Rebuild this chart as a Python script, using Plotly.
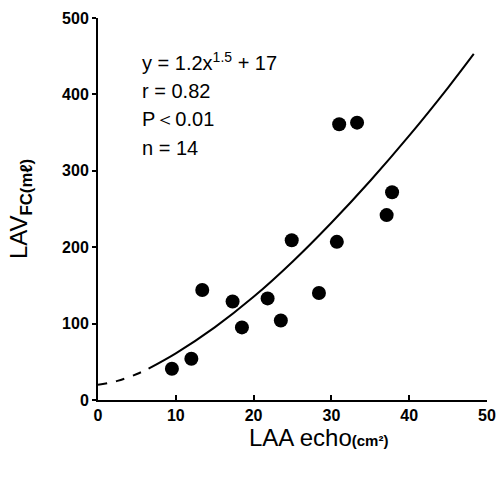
import plotly.graph_objects as go

# Data
laa_echo = [9.5, 12.0, 13.4, 17.3, 18.5, 21.8, 23.5, 24.9, 28.4, 30.7, 37.1, 31.0, 33.3, 37.8]
lav_fc = [41, 54, 144, 129, 95, 133, 104, 209, 140, 207, 242, 361, 363, 272]

# Regression curve (dashed extrapolation + solid part)
curve_x_dashed = [0, 2.5, 5, 6.5]
curve_y_dashed = [20, 25, 34, 41]
curve_x = [6.5, 10, 15, 20, 25, 30, 35, 40, 45, 48.3]
curve_y = [41, 61, 95, 135, 181, 232, 287, 346, 409, 453]

x_ticks = [0, 10, 20, 30, 40, 50]
y_ticks = [0, 100, 200, 300, 400, 500]

stats_lines = ["y = 1.2x<sup>1.5</sup> + 17", "r = 0.82", "P\uff1c0.01", "n = 14"]
x_title = "LAA echo<span style='font-size:15px;font-weight:bold'>(cm²)</span>"
y_title = "LAV<sub><b>FC(mℓ)</b></sub>"

FONT = "Liberation Sans, Arial, sans-serif"

fig = go.Figure()
fig.add_trace(go.Scatter(x=curve_x_dashed, y=curve_y_dashed, mode="lines",
                         line=dict(color="black", width=2, dash="dash", shape="spline"),
                         hoverinfo="skip", showlegend=False))
fig.add_trace(go.Scatter(x=curve_x, y=curve_y, mode="lines",
                         line=dict(color="black", width=2, shape="spline"),
                         hoverinfo="skip", showlegend=False))
fig.add_trace(go.Scatter(x=laa_echo, y=lav_fc, mode="markers",
                         marker=dict(color="black", size=14, line=dict(width=0)),
                         showlegend=False))

for i, t in enumerate(stats_lines):
    fig.add_annotation(x=0.108, y=0.885 - i * 0.075, xref="paper", yref="paper",
                       text=t, showarrow=False, xanchor="left", yanchor="middle",
                       font=dict(family=FONT, size=20, color="black"))

fig.add_annotation(x=0.568, y=-0.097, xref="paper", yref="paper", text=x_title,
                   showarrow=False, xanchor="center", yanchor="middle",
                   font=dict(family=FONT, size=24, color="black"))

fig.update_layout(
    width=504, height=478,
    margin=dict(l=98, r=17, t=18, b=78),
    paper_bgcolor="white", plot_bgcolor="white",
    font=dict(family=FONT, color="black"),
)
fig.update_xaxes(range=[0, 50], tickvals=x_ticks, ticks="inside", ticklen=5, tickwidth=2,
                 tickcolor="black", showline=True, linecolor="black", linewidth=2,
                 showgrid=False, zeroline=False, automargin=False,
                 tickfont=dict(family=FONT, size=16, color="black", weight="bold"))
fig.update_yaxes(range=[0, 500], tickvals=y_ticks, ticks="outside", ticklen=4, tickwidth=2,
                 tickcolor="black", showline=True, linecolor="black", linewidth=2,
                 showgrid=False, zeroline=False, automargin=False,
                 tickfont=dict(family=FONT, size=16, color="black", weight="bold"),
                 title=dict(text=y_title,
                            font=dict(family=FONT, size=24, color="black"), standoff=28))

fig.write_html("out.html", config={"displayModeBar": False},
               post_script="document.body.style.margin='0';")
